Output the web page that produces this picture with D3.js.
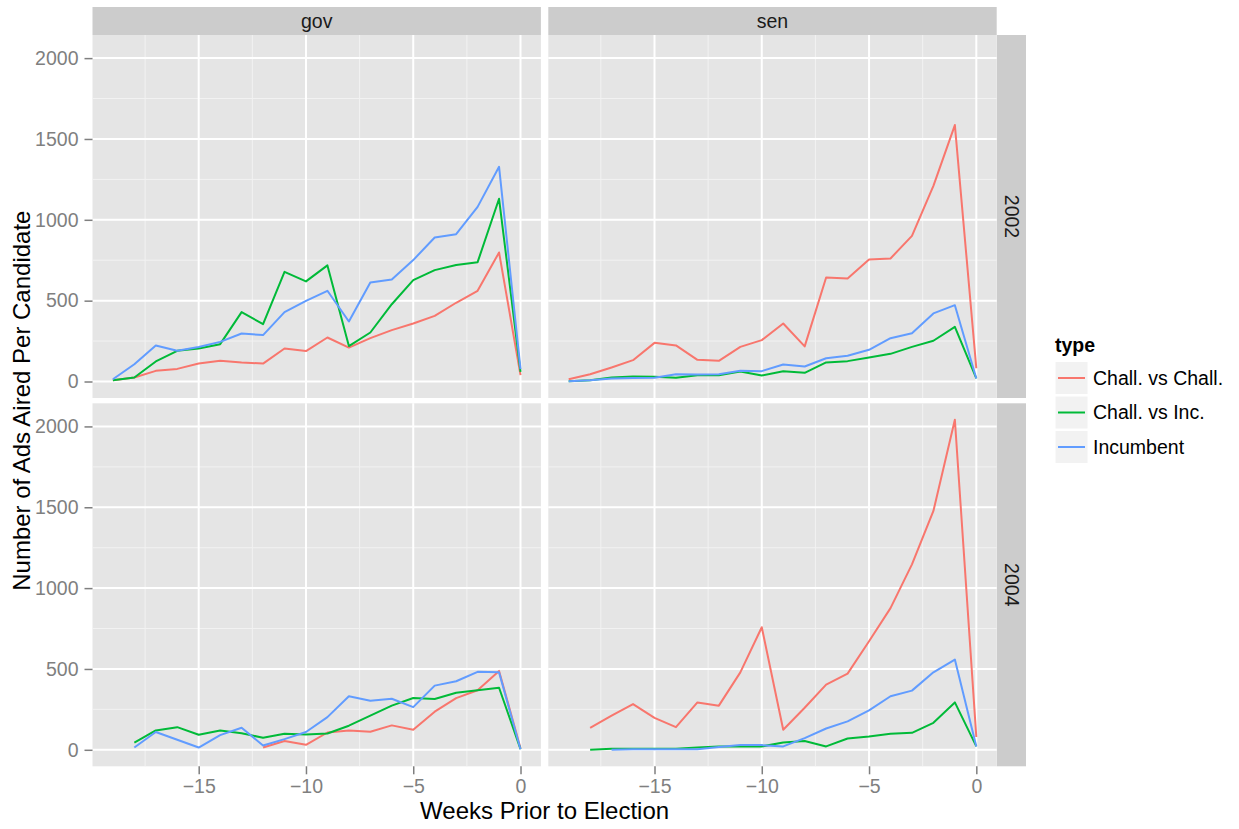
<!DOCTYPE html>
<head>
<meta charset="utf-8">
<style>
body { margin: 0; background: #fff; }
svg { display: block; font-family: "Liberation Sans", Arial, Helvetica, sans-serif; }
.tick text { fill: #7f7f7f; font-size: 19.5px; }
.tick line { stroke: #7f7f7f; }
.domain { display: none; }
.strip text { font-size: 19.5px; fill: #1a1a1a; }
.title { font-size: 24px; fill: #000; }
.legend text { font-size: 19.5px; }
</style>
</head>
<body>
<svg width="1239" height="829"></svg>
<script src="https://d3js.org/d3.v7.min.js"></script>
<script>
// weeks prior to election
var weeks = [-19,-18,-17,-16,-15,-14,-13,-12,-11,-10,-9,-8,-7,-6,-5,-4,-3,-2,-1,0];
var types = ["Chall. vs Chall.", "Chall. vs Inc.", "Incumbent"];
var colors = ["#F8766D", "#00BA38", "#619CFF"];
var races = ["gov", "sen"];
var years = ["2002", "2004"];

// gov 2002
var gov2002Chall = [8,25,66,78,111,128,118,111,204,188,272,210,268,318,359,406,487,561,798,39];
var gov2002ChInc = [8,25,124,190,204,231,429,355,678,619,718,219,303,478,627,689,720,738,1130,60];
var gov2002Inc   = [14,107,223,190,214,245,297,287,429,499,561,371,612,631,751,891,911,1080,1328,76];
// sen 2002
var sen2002Chall = [14,45,87,132,239,223,134,128,214,256,359,217,643,637,755,761,901,1210,1586,82];
var sen2002ChInc = [2,8,25,31,29,23,39,39,62,37,64,54,118,126,148,171,214,252,338,19];
var sen2002Inc   = [2,8,19,21,23,45,43,45,66,64,105,93,144,159,196,268,299,421,472,19];
// gov 2004
var gov2004Chall = [null,null,null,null,null,null,null,14,54,31,107,120,112,151,124,236,320,368,488,10];
var gov2004ChInc = [null,45,120,140,93,120,103,74,99,95,101,149,211,273,320,314,353,368,384,4];
var gov2004Inc   = [null,14,110,62,14,91,136,27,66,110,202,331,304,316,264,397,424,482,479,4];
// sen 2004
var sen2004Chall = [null,136,211,283,198,140,293,273,479,758,124,260,403,471,671,876,1147,1477,2041,79];
var sen2004ChInc = [null,0,6,6,6,6,14,21,21,21,45,54,21,70,83,99,105,167,293,21];
var sen2004Inc   = [null,null,0,4,4,4,4,17,29,29,21,72,132,176,244,331,366,479,558,21];

var yTicks = [0, 500, 1000, 1500, 2000];
var xTicks = [-15, -10, -5, 0];

var series = {
  gov2002: [gov2002Chall, gov2002ChInc, gov2002Inc],
  sen2002: [sen2002Chall, sen2002ChInc, sen2002Inc],
  gov2004: [gov2004Chall, gov2004ChInc, gov2004Inc],
  sen2004: [sen2004Chall, sen2004ChInc, sen2004Inc]
};

var svg = d3.select("svg");

var panelLeft = [92.5, 548.3],
    panelW = 448.4,
    panelTop = [35, 403.3],
    panelH = 363,
    stripH = 28,
    stripW = 29.3;

var x = d3.scaleLinear().domain([-19.95, 0.95]).range([0, panelW]);
var y = d3.scaleLinear().domain([-102, 2143]).range([panelH, 0]);

var line = d3.line()
    .defined(function(d) { return d != null; })
    .x(function(d, i) { return x(weeks[i]); })
    .y(function(d) { return y(d); });

// top strips
races.forEach(function(r, c) {
  var s = svg.append("g").attr("class", "strip")
      .attr("transform", "translate(" + panelLeft[c] + "," + (panelTop[0] - stripH) + ")");
  s.append("rect").attr("width", panelW).attr("height", stripH).attr("fill", "#cccccc");
  s.append("text").attr("x", panelW / 2).attr("y", stripH / 2).attr("dy", ".35em")
      .attr("text-anchor", "middle").text(r);
});

// right strips
years.forEach(function(yr, rIdx) {
  var s = svg.append("g").attr("class", "strip")
      .attr("transform", "translate(" + (panelLeft[1] + panelW) + "," + panelTop[rIdx] + ")");
  s.append("rect").attr("width", stripW).attr("height", panelH).attr("fill", "#cccccc");
  s.append("text").attr("transform", "translate(" + stripW / 2 + "," + panelH / 2 + ") rotate(90)")
      .attr("dy", ".35em").attr("text-anchor", "middle").text(yr);
});

years.forEach(function(yr, rIdx) {
  races.forEach(function(r, c) {
    var g = svg.append("g")
        .attr("transform", "translate(" + panelLeft[c] + "," + panelTop[rIdx] + ")");
    g.append("rect").attr("width", panelW).attr("height", panelH).attr("fill", "#e5e5e5");

    // minor grid
    g.selectAll(".minorx").data([-17.5, -12.5, -7.5, -2.5]).enter().append("line")
        .attr("x1", x).attr("x2", x).attr("y1", 0).attr("y2", panelH)
        .attr("stroke", "#f2f2f2").attr("stroke-width", 1);
    g.selectAll(".minory").data([250, 750, 1250, 1750]).enter().append("line")
        .attr("y1", y).attr("y2", y).attr("x1", 0).attr("x2", panelW)
        .attr("stroke", "#f2f2f2").attr("stroke-width", 1);
    // major grid
    g.selectAll(".majorx").data(xTicks).enter().append("line")
        .attr("x1", x).attr("x2", x).attr("y1", 0).attr("y2", panelH)
        .attr("stroke", "#fff").attr("stroke-width", 2);
    g.selectAll(".majory").data(yTicks).enter().append("line")
        .attr("y1", y).attr("y2", y).attr("x1", 0).attr("x2", panelW)
        .attr("stroke", "#fff").attr("stroke-width", 2);

    series[r + yr].forEach(function(vals, k) {
      g.append("path").datum(vals)
          .attr("d", line)
          .attr("fill", "none")
          .attr("stroke", colors[k])
          .attr("stroke-width", 2)
          .attr("stroke-linejoin", "round");
    });

    if (c === 0) {
      g.append("g").call(d3.axisLeft(y).tickValues(yTicks).tickSize(8).tickPadding(6)
          .tickFormat(d3.format("d")))
        .selectAll(".tick line").attr("stroke-width", 1.5);
    }
    if (rIdx === 1) {
      g.append("g").attr("transform", "translate(0," + panelH + ")")
        .call(d3.axisBottom(x).tickValues(xTicks).tickSize(8).tickPadding(5)
          .tickFormat(function(d) { return d === 0 ? "0" : "\u2212" + Math.abs(d); }))
        .selectAll(".tick line").attr("stroke-width", 1.5);
    }
  });
});
svg.selectAll(".tick text").attr("font-family", null).attr("font-size", null);

// axis titles
svg.append("text").attr("class", "title")
    .attr("x", (panelLeft[0] + panelLeft[1] + panelW) / 2).attr("y", 819)
    .attr("text-anchor", "middle").text("Weeks Prior to Election");
svg.append("text").attr("class", "title")
    .attr("transform", "translate(30," + (panelTop[0] + panelTop[1] + panelH) / 2 + ") rotate(-90)")
    .attr("text-anchor", "middle").text("Number of Ads Aired Per Candidate");

// legend
var legend = svg.append("g").attr("class", "legend").attr("transform", "translate(1055,340)");
legend.append("text").attr("x", 0).attr("y", 12).attr("font-weight", "bold").text("type");
types.forEach(function(t, i) {
  var k = legend.append("g").attr("transform", "translate(0," + (21.5 + i * 34.5) + ")");
  k.append("rect").attr("width", 33).attr("height", 33).attr("fill", "#f2f2f2")
      .attr("stroke", "#fff").attr("stroke-width", 1);
  k.append("line").attr("x1", 3).attr("x2", 30).attr("y1", 16.5).attr("y2", 16.5)
      .attr("stroke", colors[i]).attr("stroke-width", 2);
  k.append("text").attr("x", 38).attr("y", 16.5).attr("dy", ".35em").text(t);
});
</script>
</body>
